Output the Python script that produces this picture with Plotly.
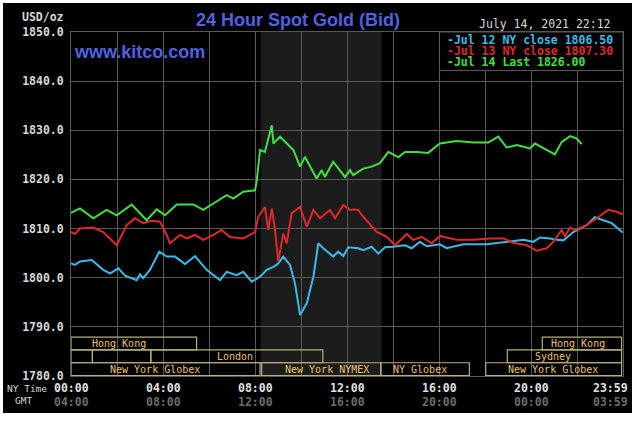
import plotly.graph_objects as go

# ---------------- data ----------------
blue_hours = [0.00, 0.17, 0.39, 0.90, 1.40, 1.70, 2.06, 2.35, 2.86, 3.00, 3.14, 3.43, 3.84, 4.16, 4.52, 4.96,
              5.39, 5.90, 6.48, 6.77, 7.20, 7.49, 7.86, 8.22, 8.51, 8.80, 9.01, 9.23, 9.52, 9.74, 9.96, 10.25,
              10.54, 10.75, 10.97, 11.40, 11.62, 11.84, 12.06, 12.27, 12.49, 12.71, 13.07, 13.36, 13.65, 14.01,
              14.52, 14.81, 15.17, 15.47, 16.04, 16.33, 17.06, 18.07, 18.94, 19.67, 20.10, 20.39, 20.83, 21.12,
              21.41, 21.84, 22.42, 22.78, 23.14, 23.51, 23.99]
blue_values = [1802.9, 1802.6, 1803.3, 1803.6, 1801.6, 1800.9, 1801.9, 1800.4, 1799.5, 1800.7, 1799.9, 1801.6,
               1805.3, 1804.3, 1804.3, 1802.8, 1804.4, 1801.6, 1799.5, 1801.2, 1800.5, 1801.2, 1799.2, 1800.2,
               1801.6, 1802.2, 1802.9, 1804.3, 1802.6, 1798.8, 1792.4, 1794.8, 1800.2, 1807.0, 1806.0, 1804.3,
               1805.3, 1804.4, 1806.2, 1806.1, 1806.0, 1805.6, 1806.3, 1804.9, 1806.2, 1806.3, 1806.6, 1806.0,
               1807.3, 1806.4, 1806.8, 1806.0, 1806.8, 1806.8, 1807.3, 1807.7, 1807.3, 1808.2, 1808.0, 1807.7,
               1807.6, 1809.3, 1810.7, 1812.3, 1811.7, 1811.1, 1809.2]

red_hours = [0.00, 0.17, 0.39, 0.97, 1.40, 1.99, 2.42, 2.78, 3.14, 3.51, 3.87, 4.16, 4.30, 4.74, 5.03, 5.39,
             5.75, 6.19, 6.55, 6.91, 7.49, 8.00, 8.14, 8.43, 8.58, 8.73, 8.87, 9.01, 9.23, 9.38, 9.59, 9.96,
             10.25, 10.54, 10.83, 11.26, 11.48, 11.84, 12.13, 12.27, 12.49, 12.71, 13.29, 13.73, 14.09, 14.60,
             14.88, 15.25, 15.68, 16.04, 16.77, 17.49, 18.22, 18.80, 19.23, 19.82, 20.25, 20.68, 20.97, 21.33,
             21.48, 21.70, 21.91, 22.42, 22.86, 23.36, 23.73, 23.99]
red_values = [1809.3, 1808.9, 1810.0, 1810.2, 1809.3, 1806.6, 1810.7, 1812.1, 1811.1, 1811.6, 1811.4, 1808.7,
              1807.0, 1808.7, 1808.0, 1808.7, 1807.7, 1808.7, 1809.7, 1808.3, 1808.0, 1809.3, 1812.4, 1814.4,
              1809.7, 1814.1, 1809.7, 1803.3, 1809.0, 1807.0, 1813.1, 1814.4, 1810.4, 1813.8, 1812.1, 1813.8,
              1812.1, 1814.8, 1813.8, 1813.9, 1813.8, 1812.4, 1809.3, 1808.3, 1806.6, 1808.9, 1807.7, 1808.3,
              1807.0, 1808.5, 1807.7, 1807.7, 1808.0, 1808.0, 1807.1, 1806.6, 1805.5, 1806.0, 1807.3, 1809.7,
              1808.5, 1810.2, 1809.7, 1810.7, 1812.1, 1813.8, 1813.4, 1812.9]

green_hours = [0.00, 0.39, 0.97, 1.55, 1.99, 2.64, 3.29, 3.73, 4.09, 4.60, 5.32, 5.75, 6.19, 6.77, 7.06, 7.49,
               8.00, 8.07, 8.22, 8.43, 8.73, 8.80, 9.09, 9.67, 9.96, 10.17, 10.68, 10.90, 11.04, 11.40, 11.91,
               12.13, 12.27, 12.71, 13.07, 13.43, 13.80, 14.23, 14.52, 15.03, 15.53, 16.04, 16.77, 17.49, 18.14,
               18.58, 18.94, 19.38, 19.96, 20.17, 20.68, 21.04, 21.33, 21.70, 21.99, 22.20]
green_values = [1813.2, 1814.1, 1812.1, 1813.8, 1812.7, 1814.9, 1811.7, 1813.9, 1812.7, 1814.9, 1814.9, 1813.8,
                1815.1, 1816.8, 1816.1, 1817.5, 1817.8, 1819.5, 1826.0, 1825.6, 1831.0, 1827.3, 1828.7, 1826.0,
                1822.6, 1824.6, 1820.2, 1821.9, 1820.5, 1823.6, 1820.5, 1821.9, 1820.9, 1822.2, 1822.6, 1823.3,
                1825.6, 1824.5, 1825.6, 1825.6, 1825.4, 1827.3, 1827.8, 1827.5, 1827.5, 1828.7, 1826.5, 1827.0,
                1826.3, 1827.3, 1826.0, 1825.1, 1827.6, 1828.8, 1828.3, 1827.2]

legend_labels = ["-Jul 12 NY close 1806.50", "-Jul 13 NY close 1807.30", "-Jul 14 Last 1826.00"]
y_ticks = [1780, 1790, 1800, 1810, 1820, 1830, 1840, 1850]
x_tick_hours = [0, 4, 8, 12, 16, 20, 23.983]
ny_time_labels = ["00:00", "04:00", "08:00", "12:00", "16:00", "20:00", "23:59"]
gmt_labels = ["04:00", "08:00", "12:00", "16:00", "20:00", "00:00", "03:59"]

# sessions: (row, start hour, end hour)
session_boxes = [(1, 0.0, 5.46), (1, 20.49, 23.94),
                 (2, 0.0, 0.93), (2, 0.93, 3.47), (2, 3.47, 10.95), (2, 18.97, 23.94),
                 (3, 0.0, 8.22), (3, 8.29, 13.47), (3, 13.47, 17.32), (3, 18.03, 23.94)]
session_labels = [(1, 2.09, "Hong Kong"), (1, 22.04, "Hong Kong"),
                  (2, 7.13, "London"), (2, 20.96, "Sydney"),
                  (3, 3.65, "New York Globex"), (3, 11.13, "New York NYMEX"),
                  (3, 15.17, "NY Globex"), (3, 20.96, "New York Globex")]
nymex_hours = [8.25, 13.5]

# ---------------- figure ----------------
BLUE = "#38bce8"
RED = "#e02828"
GREEN = "#3ee23e"
GRID = "#585858"
MONO = "DejaVu Sans Mono"

L, R, T, B = 71, 14, 32, 45
W, H = 637, 421
PW, PH = W - L - R, H - T - B


def px(x):
    return (x - L) / PW


def py(y):
    return (H - B - y) / PH


fig = go.Figure()
for hrs, vals, col in [(blue_hours, blue_values, BLUE), (red_hours, red_values, RED),
                       (green_hours, green_values, GREEN)]:
    fig.add_trace(go.Scatter(x=hrs, y=vals, mode="lines", line=dict(color=col, width=2),
                             hoverinfo="skip", showlegend=False))

shapes = []
# NYMEX shading
shapes.append(dict(type="rect", xref="x", yref="paper", x0=nymex_hours[0], x1=nymex_hours[1], y0=0, y1=1,
                   fillcolor="#1c1c1c", line=dict(width=0), layer="below"))

row_base = 1780.1
row_h = 2.6
for row, s, e in session_boxes:
    y0 = row_base + (3 - row) * row_h
    shapes.append(dict(type="rect", xref="x", yref="y", x0=s, x1=e, y0=y0, y1=y0 + row_h,
                       line=dict(color="#b8b07c", width=1.2), fillcolor="rgba(0,0,0,0)", layer="above"))

# legend box
shapes.append(dict(type="rect", xref="paper", yref="paper", x0=px(439.5), x1=1, y0=py(70.5), y1=1,
                   fillcolor="black", line=dict(color=GRID, width=1), layer="above"))

# white outer frame
shapes += [
    dict(type="rect", xref="paper", yref="paper", x0=px(-5), x1=px(3), y0=py(430), y1=py(-5),
         fillcolor="white", line=dict(width=0), layer="above"),
    dict(type="rect", xref="paper", yref="paper", x0=px(-5), x1=px(645), y0=py(3), y1=py(-5),
         fillcolor="white", line=dict(width=0), layer="above"),
    dict(type="rect", xref="paper", yref="paper", x0=px(632), x1=px(645), y0=py(430), y1=py(-5),
         fillcolor="white", line=dict(width=0), layer="above"),
    dict(type="rect", xref="paper", yref="paper", x0=px(-5), x1=px(645), y0=py(430), y1=py(413),
         fillcolor="white", line=dict(width=0), layer="above"),
]

ann = []
ann.append(dict(text="<b>24 Hour Spot Gold (Bid)</b>", x=px(298), y=py(20), xref="paper", yref="paper",
                showarrow=False, font=dict(family="Liberation Sans", size=18, color="#4f62e3"),
                xanchor="center", yanchor="middle"))
ann.append(dict(text="<b>www.kitco.com</b>", x=px(72), y=py(52), xref="paper", yref="paper",
                showarrow=False, font=dict(family="Liberation Sans", size=18, color="#4f62e3"),
                xanchor="left", yanchor="middle"))
ann.append(dict(text="July 14, 2021 22:12", x=px(613), y=py(24), xref="paper", yref="paper",
                showarrow=False, font=dict(family=MONO, size=11.5, color="#d8d8d8"),
                xanchor="right", yanchor="middle"))
ann.append(dict(text="<b>USD/oz</b>", x=px(66), y=py(17), xref="paper", yref="paper",
                showarrow=False, font=dict(family=MONO, size=11.5, color="#d8d8d8"),
                xanchor="right", yanchor="middle"))
for i, (lab, col) in enumerate(zip(legend_labels, [BLUE, RED, GREEN])):
    ann.append(dict(text="<b>" + lab + "</b>", x=px(446), y=py(39.5 + 11.2 * i), xref="paper",
                    yref="paper", showarrow=False, font=dict(family=MONO, size=11.5, color=col),
                    xanchor="left", yanchor="middle", borderpad=0))
for row, h, lab in session_labels:
    y0 = row_base + (3 - row) * row_h
    ann.append(dict(text=lab, x=h, y=y0 + row_h / 2, xref="x", yref="y", showarrow=False,
                    font=dict(family=MONO, size=10, color="#f0c060"), xanchor="center", yanchor="middle",
                    borderpad=0))
ann.append(dict(text="NY Time", x=px(6), y=py(388), xref="paper", yref="paper", showarrow=False,
                font=dict(family=MONO, size=9.5, color="#d8d8d8"), xanchor="left", yanchor="middle",
                borderpad=0))
ann.append(dict(text="GMT", x=px(14), y=py(401), xref="paper", yref="paper", showarrow=False,
                font=dict(family=MONO, size=9.5, color="#d8d8d8"), xanchor="left", yanchor="middle",
                borderpad=0))
for h, a, b in zip(x_tick_hours, ny_time_labels, gmt_labels):
    last = h > 23
    xa = "right" if last else "center"
    xx = px(629) if last else px(L + h * PW / 24)
    ann.append(dict(text="<b>" + a + "</b>", x=xx, y=py(388), xref="paper", yref="paper", showarrow=False,
                    font=dict(family=MONO, size=11.5, color="#e0e0e0"), xanchor=xa, yanchor="middle",
                    borderpad=0))
    ann.append(dict(text="<b>" + b + "</b>", x=xx, y=py(402), xref="paper", yref="paper", showarrow=False,
                    font=dict(family=MONO, size=11.5, color="#6c6c6c"), xanchor=xa, yanchor="middle",
                    borderpad=0))

fig.update_layout(
    width=W, height=H, margin=dict(l=L, r=R, t=T, b=B, pad=0),
    paper_bgcolor="black", plot_bgcolor="black",
    shapes=shapes, annotations=ann, showlegend=False,
    xaxis=dict(range=[0, 24], tickvals=list(range(0, 25, 2)), showticklabels=False, showgrid=True,
               gridcolor=GRID, gridwidth=1, zeroline=False, showline=True, linecolor=GRID, mirror=True,
               ticks="", fixedrange=True),
    yaxis=dict(range=[1780, 1850], tickvals=y_ticks, ticktext=[f"<b>{v:.1f}</b>" for v in y_ticks],
               showgrid=True, gridcolor=GRID, gridwidth=1, zeroline=False, showline=True, linecolor=GRID,
               mirror=True, ticks="", tickfont=dict(family=MONO, size=11.5, color="#d8d8d8"),
               ticklabelstandoff=4, fixedrange=True),
)

fig.write_html("out.html", config={"displayModeBar": False},
               post_script="document.body.style.margin='0px';document.body.style.overflow='hidden';")
